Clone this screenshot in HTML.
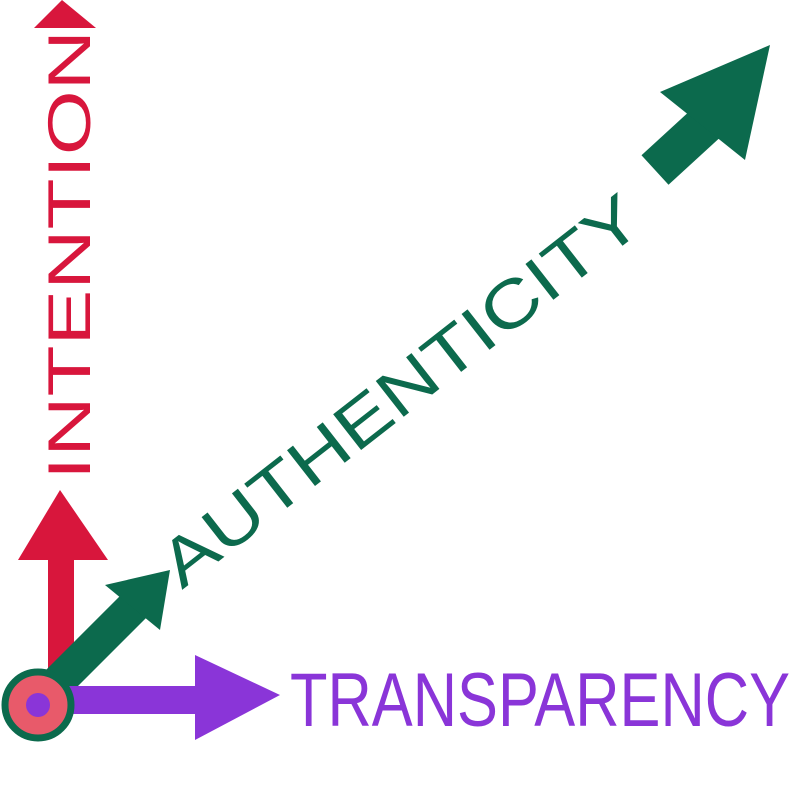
<!DOCTYPE html>
<html><head><meta charset="utf-8"><style>
html,body{margin:0;padding:0;background:#fff;}
svg{display:block;}
text{font-family:"Liberation Sans",sans-serif;font-weight:normal;}
</style></head><body>
<svg width="800" height="801" viewBox="0 0 800 801">
<rect width="800" height="801" fill="#fff"/>
<g fill="#d8163c" stroke="#d8163c">
 <rect x="48" y="540" width="26" height="160" stroke="none"/>
 <polygon points="60,490 108,560 18,560" stroke="none"/>
 <polygon points="62,0 96,28 34,28" stroke="none"/>
</g>
<text transform="translate(90,480) rotate(-90)" font-size="60" fill="#d8163c" textLength="450" lengthAdjust="spacingAndGlyphs">INTENTION</text>
<g fill="#0c6a4d" stroke="#0c6a4d">
 <line x1="40" y1="700" x2="140" y2="600" stroke-width="34" stroke-linecap="round"/>
 <polygon points="105,585 170,570 160,630" stroke="none"/>
 <line x1="655" y1="170" x2="715" y2="115" stroke-width="40"/>
 <polygon points="660,92 770,45 745,160" stroke="none"/>
</g>
<text transform="translate(182,590) rotate(-38)" font-size="66" fill="#0c6a4d" textLength="590" lengthAdjust="spacingAndGlyphs">AUTHENTICITY</text>
<g fill="#8a35d8">
 <rect x="40" y="686" width="170" height="28"/>
 <polygon points="280,695 195,655 195,740"/>
</g>
<text x="290" y="726" font-size="76" fill="#8a35d8" textLength="500" lengthAdjust="spacingAndGlyphs">TRANSPARENCY</text>
<circle cx="38" cy="705" r="33" fill="#e85a6a" stroke="#0c6a4d" stroke-width="7"/>
<circle cx="38" cy="705" r="12" fill="#8a35d8"/>
</svg>
</body></html>
